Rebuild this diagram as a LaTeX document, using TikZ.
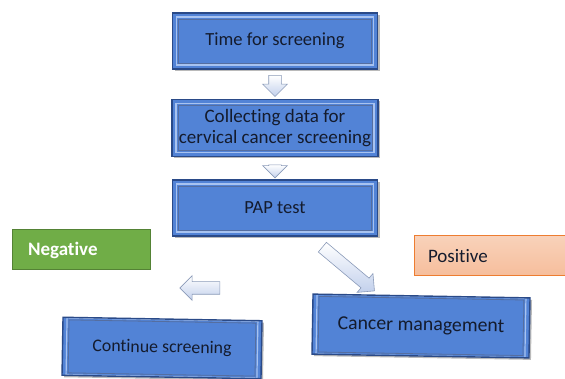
\documentclass[tikz,border=0pt]{standalone}
\usepackage{fontspec}
\setmainfont{Carlito}[Ligatures={NoCommon}]
\usetikzlibrary{shapes.arrows,calc,shadows}
\definecolor{boxface}{HTML}{5283D6}
\definecolor{boxedge}{HTML}{2A4A88}
\definecolor{boxhi}{HTML}{A8C3F0}
\definecolor{arrfill}{HTML}{C2D0EC}
\definecolor{arredge}{HTML}{8A9AB8}
\definecolor{greenfill}{HTML}{70AD47}
\definecolor{greenedge}{HTML}{548235}
\definecolor{orfill}{HTML}{F6BE9C}
\definecolor{oredge}{HTML}{ED7D31}
\definecolor{txt}{HTML}{141B2D}
\newcommand{\fsz}[1]{\fontsize{#1}{21}\selectfont}
\tikzset{
  bevelbox/.style={draw=boxedge, line width=1.4pt, fill=boxface, inner sep=0pt,
    align=center, text=txt,
    drop shadow={shadow xshift=2pt, shadow yshift=-2pt, fill=black!45, opacity=0.6},
    path picture={\draw[boxhi, line width=1.2pt]
      ([shift={(4pt,4pt)}]path picture bounding box.south west) rectangle
      ([shift={(-4pt,-4pt)}]path picture bounding box.north east);
      \draw[boxedge!80, line width=0.8pt]
      ([shift={(6pt,6pt)}]path picture bounding box.south west) rectangle
      ([shift={(-6pt,-6pt)}]path picture bounding box.north east);}},
  blockarrow/.style={single arrow, draw=arredge, line width=0.6pt,
    top color=white, bottom color=arrfill, shading angle=0,
    inner xsep=0pt, inner ysep=6pt, single arrow head extend=6pt},
  labelbox/.style={minimum height=40pt, inner sep=0pt,
    font=\fontsize{19}{21}\selectfont}
}
\begin{document}
\begin{tikzpicture}[x=1pt,y=-1pt]
\useasboundingbox (0,0) rectangle (565,379);
\node[bevelbox, minimum width=205pt, minimum height=56pt, font=\fsz{18.5}] (t) at (275,41) {Time for screening};
\node[bevelbox, minimum width=206pt, minimum height=57pt, font=\fsz{19}] (c) at (275,128) {Collecting data for\\cervical cancer screening};
\node[bevelbox, minimum width=205pt, minimum height=56pt, font=\fsz{18.5}] (p) at (275,208) {PAP test};
\node[bevelbox, minimum width=199pt, minimum height=58pt, rotate=-1, font=\fsz{17.8}] (cs) at (162,348) {Continue screening};
\node[bevelbox, minimum width=217pt, minimum height=60pt, rotate=-1, font=\fsz{19.8}] (cm) at (421,326) {Cancer management};
\node[labelbox, draw=greenedge, line width=1pt, fill=greenfill, text=white,
  minimum width=138pt, text width=106pt, font=\fontsize{19}{21}\selectfont\bfseries] (neg) at (81,250) {Negative};
\node[labelbox, draw=oredge, line width=1pt, top color=orfill!70, bottom color=orfill,
  text=txt, minimum width=152pt, text width=124pt] (pos) at (490,256) {Positive};
\node[blockarrow, minimum height=21pt, rotate=-90] (a1)
  at ($(t.south)!0.45!(c.north)$) {};
\node[blockarrow, minimum height=13pt, single arrow head extend=6pt, rotate=-90] (a2)
  at ($(c.south)!0.5!(p.north)$) {};
\node[blockarrow, minimum height=40pt, rotate=180] (a3)
  at (203,288) {};
\node[blockarrow, minimum height=68pt, rotate=-40] (a4)
  at (346,267) {};
\end{tikzpicture}
\end{document}
